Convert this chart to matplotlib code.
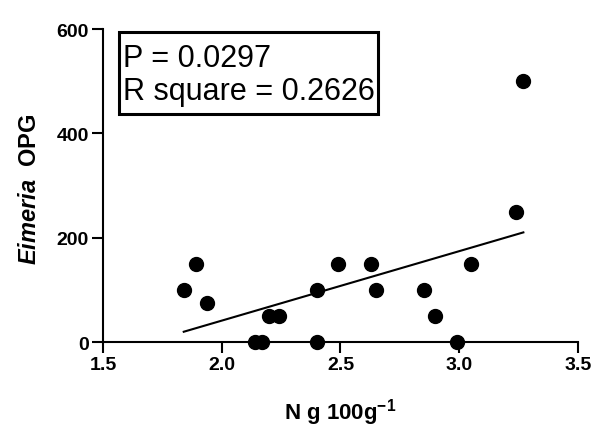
import numpy as np
import matplotlib
matplotlib.use("Agg")
import matplotlib.pyplot as plt
from matplotlib.patches import Rectangle

plt.rcParams["font.family"] = ["Liberation Sans", "DejaVu Sans"]
plt.rcParams["mathtext.fontset"] = "custom"
plt.rcParams["mathtext.it"] = "Liberation Sans:italic:bold"
plt.rcParams["mathtext.bf"] = "Liberation Sans:bold"
plt.rcParams["mathtext.rm"] = "Liberation Sans:bold"

# N g 100g-1 vs Eimeria OPG
n_content = [1.84, 1.89, 1.94, 2.14, 2.17, 2.20, 2.24, 2.40, 2.40,
             2.49, 2.63, 2.65, 2.85, 2.90, 2.99, 3.05, 3.24, 3.27]
opg = [100, 150, 75, 0, 0, 50, 50, 100, 0,
       150, 150, 100, 100, 50, 0, 150, 250, 500]

x_ticks = [1.5, 2.0, 2.5, 3.0, 3.5]
y_ticks = [0, 200, 400, 600]

x = np.array(n_content)
y = np.array(opg)
slope, intercept = np.polyfit(x, y, 1)
x_line = np.array([x.min(), x.max()])

fig = plt.figure(figsize=(5.95, 4.27), dpi=100)
ax = fig.add_axes([0.1731, 0.1967, 0.7983, 0.7330])

ax.scatter(x, y, s=100, color="black", zorder=3, clip_on=False)
ax.plot(x_line, slope * x_line + intercept, color="black", linewidth=1.5)

ax.set_xlim(1.5, 3.5)
ax.set_ylim(0, 600)
ax.set_xticks(x_ticks)
ax.set_xticklabels([f"{v:.1f}" for v in x_ticks])
ax.set_yticks(y_ticks)

for side in ["top", "right"]:
    ax.spines[side].set_visible(False)
for side in ["left", "bottom"]:
    ax.spines[side].set_linewidth(1.5)

ax.tick_params(axis="both", direction="out", length=8, width=1.5,
               labelsize=14, pad=2)
for lab in ax.get_xticklabels() + ax.get_yticklabels():
    lab.set_fontweight("bold")

ax.set_xlabel(r"N g 100g$^{\mathbf{-1}}$", fontsize=16, fontweight="bold")
ax.xaxis.set_label_coords(0.5, -0.172)
ax.set_ylabel(r"$\it{Eimeria}$  OPG", fontsize=17, fontweight="bold")
ax.yaxis.set_label_coords(-0.13, 0.49)

# stats box
ax.add_patch(Rectangle((0.0337, 0.7284), 0.5453, 0.262, transform=ax.transAxes,
                       facecolor="white", edgecolor="black", linewidth=2.2,
                       clip_on=False, zorder=4))
ax.text(0.042, 0.8818, "P = 0.0297", transform=ax.transAxes,
        fontsize=22, ha="left", va="baseline", zorder=5)
ax.text(0.042, 0.7764, "R square = 0.2626", transform=ax.transAxes,
        fontsize=22, ha="left", va="baseline", zorder=5)

fig.savefig("out.png", dpi=100)
